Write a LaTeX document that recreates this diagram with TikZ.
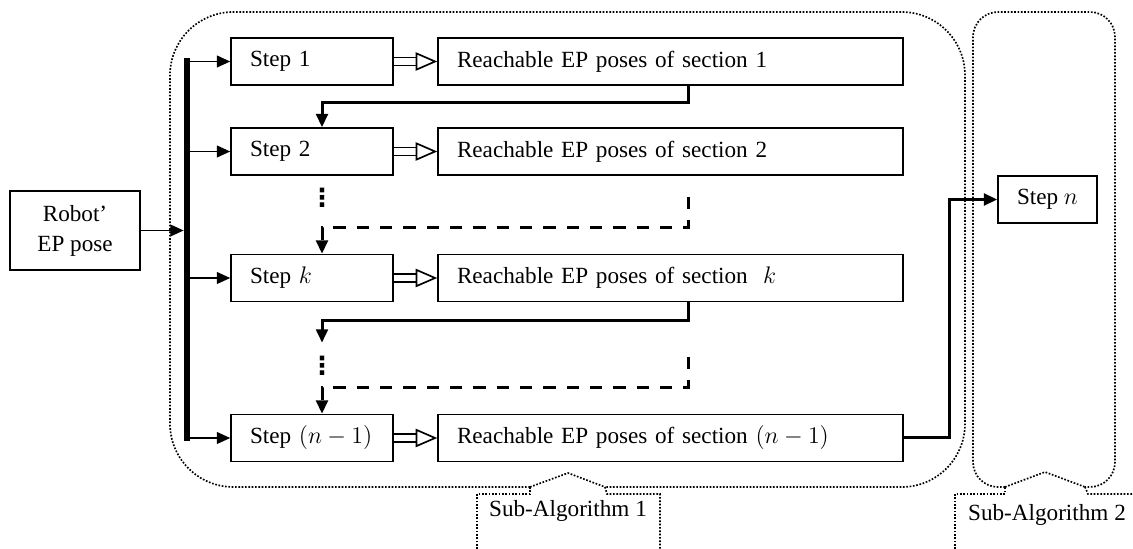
\documentclass[tikz,border=0pt]{standalone}
\usepackage{fontspec}
\setmainfont{Liberation Serif}
\newfontfamily\dotsfont{DejaVu Sans}
\usetikzlibrary{arrows.meta,calc}

\begin{document}
\begin{tikzpicture}[x=0.6pt, y=-0.6pt,
  font=\fontsize{13.9}{16}\selectfont,
  box/.style={draw, line width=0.9pt, minimum height=28.2pt, inner xsep=11.4pt, inner ysep=0pt},
  stepbox/.style={box, text width=74.4pt, align=left},
  reachbox/.style={box, text width=256.2pt, align=left},
  sub/.style={line width=1pt, dash pattern=on 1pt off 1pt},
  flow/.style={line width=1.8pt, -{Triangle[length=8pt, width=7pt]}},
  branch/.style={line width=1.1pt, -{Triangle[length=8pt, width=7pt]}},
  gap/.style={flow, dash pattern=on 7.5pt off 6.5pt},
  hollow/.style={double, double distance=3.8pt, line width=1pt, -{Triangle[open, length=13pt, width=11pt]}},
  bus/.style={line width=4pt, line cap=rect},
  vdots/.style={inner sep=0pt, font=\dotsfont\bfseries\fontsize{15}{15}\selectfont}
]
  \useasboundingbox (0,0) rectangle (1133,549);

  % sub-algorithm frames
  \draw[sub, rounded corners=38pt] (530,487) -- (170,487) -- (170,12) -- (965,12)
    -- (965,487) -- (605,487);
  \draw[sub] (530,487) -- (568,473) -- (605,487);
  \draw[sub] (477,549) |- (530,494) -- (530,487);
  \draw[sub] (605,487) -- (607,494) -| (660,549);
  \node (lab1) at (568,511) {Sub-Algorithm 1};

  \draw[sub, rounded corners=15pt] (1005,487) -- (973,487) -- (973,12) -- (1115,12)
    -- (1115,487) -- (1085,487);
  \draw[sub] (1005,487) -- (1045,472) -- (1085,487);
  \draw[sub] (955,549) |- (1005,494) -- (1005,487);
  \draw[sub] (1085,487) -- (1088,494) -- (1133,494);
  \node (lab2) at (1047,515) {Sub-Algorithm 2};

  \node[box, minimum width=78pt, minimum height=47.4pt, align=center,
    font=\fontsize{13.9}{18}\selectfont] (robot) at (75,230.5) {Robot’\\EP pose};

  \node[stepbox] (s1) at (312,61.5) {Step 1};
  \node[reachbox] (r1) at (670.5,61.5) {Reachable EP poses of section 1};
  \node[stepbox] (s2) at (312,151.5) {Step 2};
  \node[reachbox] (r2) at (670.5,151.5) {Reachable EP poses of section 2};
  \node[stepbox] (sk) at (312,278) {Step $k$};
  \node[reachbox] (rk) at (670.5,278) {Reachable EP poses of section \ $k$};
  \node[stepbox] (sn1) at (312,438) {Step $(n-1)$};
  \node[reachbox] (rn1) at (670.5,438) {Reachable EP poses of section $(n-1)$};
  \node[box, minimum width=59.4pt, align=center] (sn) at (1047.5,199.5) {Step $n$};

  \node[vdots] (v1) at (322,198) {⋮};
  \node[vdots, minimum height=27.6pt] (v2) at (322,366) {⋮};
  \coordinate (g1) at (688,197);
  \coordinate (g2) at (688,357);
  \coordinate (bus) at (187,0);

  \foreach \a/\b in {s1/r1,s2/r2,sk/rk,sn1/rn1}
    \draw[hollow] (\a) -- (\b);

  \draw[flow] ([xshift=10.5pt]r1.south) -- ++(0,17) -| ([xshift=6pt]s2.north);
  \draw[gap] (g1) -- ++(0,31) -| ([xshift=6pt]sk.north);
  \draw[flow] ([xshift=10.5pt]rk.south) -- ++(0,18) -| (v2.north);
  \draw[gap] (g2) -- ++(0,31) -| ([xshift=6pt]sn1.north);
  \draw[flow] (rn1.east) -- ++(46,0) |- (sn.west);

  \foreach \s in {s1,s2,sk,sn1}
    \draw[branch] (\s.west -| bus) -- (\s.west);
  \draw[branch, shorten >=2pt] (robot) -- (robot -| bus);
  \draw[bus] (s1.west -| bus) -- (sn1.west -| bus);
\end{tikzpicture}
\end{document}
